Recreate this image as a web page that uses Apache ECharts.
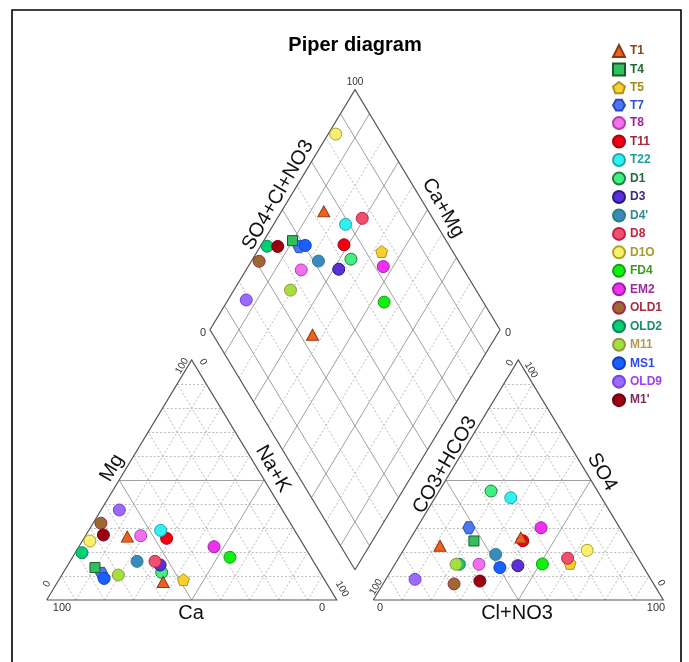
<!DOCTYPE html>
<html lang="en">
<head>
<meta charset="UTF-8">
<title>Piper diagram</title>
<script src="https://cdn.jsdelivr.net/npm/echarts@6/dist/echarts.min.js"></script>
<style>
    body { margin: 0; padding: 0; background: #fff; }
    #main { width: 689px; height: 662px; }
</style>
</head>
<body>
<div id="main"></div>
<script>
    // sample ids, T1 has two samples
    const samples = ['T1', 'T1', 'T4', 'T5', 'T7', 'T8', 'T11', 'T22', 'D1', 'D3', "D4'", 'D8', 'D1O', 'FD4', 'EM2', 'OLD1', 'OLD2', 'M11', 'MS1', 'OLD9', "M1'"];

    // cations (% meq/l)
    const ca  = [59.0, 56.1, 76.6, 48.6, 75.5, 54.2, 45.8, 46.2, 54.6, 53.6, 60.8, 54.6, 72.8, 27.9, 31.2, 65.3, 78.0, 70.1, 75.7, 56.2, 66.9];
    const mg  = [26.4,  7.5, 13.5,  8.5, 11.1, 26.8, 25.7, 29.0, 11.5, 14.6, 16.1, 16.1, 24.6, 17.8, 22.2, 32.0, 19.7, 10.4,  9.0, 37.5, 27.1];
    const naK = [14.6, 36.4,  9.9, 42.9, 13.4, 19.0, 28.5, 24.8, 33.9, 31.8, 23.1, 29.3,  2.6, 54.3, 46.6,  2.7,  2.3, 19.5, 15.3,  6.3,  6.0];

    // anions (% meq/l)
    const hco3 = [36.1, 65.7, 53.0, 24.5, 52.0, 56.1, 36.1, 31.3, 36.7, 43.0, 48.3, 24.3, 15.9, 34.2, 27.1, 68.8, 62.9, 64.0, 49.6, 81.3, 59.3];
    const so4  = [26.0, 22.6, 24.6, 15.3, 30.1, 14.9, 24.7, 42.6, 45.4, 14.3, 19.0, 17.4, 20.7, 15.0, 30.1,  6.7, 14.9, 14.9, 13.5,  8.6,  7.9];
    const cl   = [37.9, 11.7, 22.4, 60.2, 17.9, 29.0, 39.2, 26.1, 17.9, 42.7, 32.7, 58.3, 63.4, 50.8, 42.8, 24.5, 22.2, 21.1, 36.9, 10.1, 32.8];

    const legendNames = ['T1', 'T4', 'T5', 'T7', 'T8', 'T11', 'T22', 'D1', 'D3', "D4'", 'D8', 'D1O', 'FD4', 'EM2', 'OLD1', 'OLD2', 'M11', 'MS1', 'OLD9', "M1'"];
    const gridTicks = [10, 20, 30, 40, 50, 60, 70, 80, 90];

    // marker styles
    const PENT = 'path://M5,0 L10,3.8 L8.1,9.5 L1.9,9.5 L0,3.8 Z';
    const HEX = 'path://M0,5 L2.6,0.5 L7.4,0.5 L10,5 L7.4,9.5 L2.6,9.5 Z';
    const icons = ['triangle', 'rect', PENT, HEX, 'circle', 'circle', 'circle', 'circle', 'circle', 'circle', 'circle', 'circle', 'circle', 'circle', 'circle', 'circle', 'circle', 'circle', 'circle', 'circle'];
    const sizes = [[12, 11], 10, 12, 12, 12, 12, 12, 12, 12, 12, 12, 12, 12, 12, 12, 12, 12, 12, 12, 12];
    const fills = ['#F06020', '#30C060', '#F8D030', '#4A78F0', '#F070F0', '#F00010', '#30F0F0', '#40F080', '#5A30D8', '#3A8AC0',
        '#F05070', '#F8F070', '#10F010', '#F030F0', '#9A6A30', '#00D070', '#A0E040', '#1A60FF', '#9A6AFF', '#9A0010'];
    const borders = ['#8B3A10', '#1A5A2A', '#B09020', '#2A48C0', '#B040B0', '#B00010', '#20A8B0', '#208040', '#2A1880', '#2A8080',
        '#C02040', '#B0A020', '#10A010', '#A020A0', '#A02848', '#108060', '#A09040', '#1040C0', '#7A40E0', '#700018'];
    const textColors = ['#8B4513', '#1E6B2E', '#A08A1E', '#2F4FD8', '#A020A0', '#A0283C', '#1E9E9E', '#1E6E3A', '#2E2E80', '#2A8C8C',
        '#C8203C', '#A89A2A', '#3C9C1E', '#9A2A9A', '#A03040', '#1A8C6E', '#B09A5A', '#2A4AF0', '#A040F0', '#7A2A5A'];

    // geometry: triangle side = 100 units
    const H = Math.sqrt(3) / 2 * 100;
    const GAP = 12.62;
    const AX = 100 + GAP;                       // anion triangle x offset
    const B = [100 + GAP / 2, GAP / 2 * Math.sqrt(3)]; // diamond bottom vertex

    function catXY(i) { return [naK[i] + mg[i] / 2, mg[i] * H / 100]; }
    function anXY(i) { return [AX + cl[i] + so4[i] / 2, so4[i] * H / 100]; }
    function diaXY(i) {
        const u = (100 - naK[i]) / 100;   // Ca+Mg
        const v = (100 - hco3[i]) / 100;  // SO4+Cl+NO3
        return [B[0] - 50 * u + 50 * v, B[1] + H * u + H * v];
    }

    // grid lines
    const solidSegs = [];
    const dashSegs = [];
    [0, AX].forEach(ox => {
        gridTicks.forEach(p => {
            const t = p / 100;
            const segs = [
                [[ox + 50 * t, H * t], [ox + 100 - 50 * t, H * t]],
                [[ox + 100 * t, 0], [ox + 100 * t + 50 * (1 - t), H * (1 - t)]],
                [[ox + 100 * (1 - t), 0], [ox + 50 * (1 - t), H * (1 - t)]]
            ];
            segs.forEach(s => (p === 50 ? solidSegs : dashSegs).push({ coords: s }));
        });
    });
    gridTicks.forEach(p => {
        const t = p / 100;
        const a0 = [B[0] - 50 * t, B[1] + H * t];
        const b0 = [B[0] + 50 * t, B[1] + H * t];
        const segs = [
            [a0, [a0[0] + 50, a0[1] + H]],
            [b0, [b0[0] - 50, b0[1] + H]]
        ];
        segs.forEach(s => ((p / 10) % 2 === 1 ? solidSegs : dashSegs).push({ coords: s }));
    });

    const edges = [
        [[0, 0], [100, 0], [50, H], [0, 0]],
        [[AX, 0], [AX + 100, 0], [AX + 50, H], [AX, 0]],
        [B, [B[0] + 50, B[1] + H], [B[0], B[1] + 2 * H], [B[0] - 50, B[1] + H], B]
    ];

    const series = [
        {
            type: 'lines', coordinateSystem: 'cartesian2d', silent: true, z: 1,
            lineStyle: { color: '#bbbbbb', width: 1, type: [2, 2], opacity: 1 },
            data: dashSegs
        },
        {
            type: 'lines', coordinateSystem: 'cartesian2d', silent: true, z: 1,
            lineStyle: { color: '#a0a0a0', width: 1, opacity: 1 },
            data: solidSegs
        },
        {
            type: 'lines', coordinateSystem: 'cartesian2d', silent: true, z: 1, polyline: true,
            lineStyle: { color: '#555555', width: 1.2, opacity: 1 },
            data: edges.map(e => ({ coords: e }))
        }
    ];

    legendNames.forEach((name, k) => {
        const data = [];
        samples.forEach((s, i) => {
            if (s === name) data.push(catXY(i), anXY(i), diaXY(i));
        });
        series.push({
            type: 'scatter',
            name: name,
            data: data,
            symbol: icons[k],
            symbolSize: sizes[k],
            z: k < 2 ? 4 : 3,
            silent: true,
            itemStyle: { color: fills[k], borderColor: borders[k], borderWidth: 1, opacity: 1 }
        });
    });

    // text labels (pixel positions)
    const FONT = "'Liberation Sans', Arial, sans-serif";
    function txt(s, x, y, size, rot, color, weight) {
        return {
            type: 'text', x: x, y: y, rotation: (rot || 0) * Math.PI / 180, z: 10,
            style: {
                text: s, fontSize: size, fontFamily: FONT, fontWeight: weight || 'normal',
                fill: color || '#222', align: 'center', verticalAlign: 'middle'
            }
        };
    }
    const graphics = [
        { type: 'rect', shape: { x: 12, y: 10, width: 669, height: 700 }, style: { fill: 'none', stroke: '#000', lineWidth: 1.6 }, z: 0 },
        txt('Piper diagram', 355, 45, 20, 0, '#000', 'bold'),
        // cation triangle ticks
        txt('100', 182, 366, 10, 60, '#333'),
        txt('0', 203, 362, 10, -60, '#333'),
        txt('0', 47, 584, 10, 60, '#333'),
        txt('100', 62, 608, 11, 0, '#333'),
        txt('0', 322, 608, 11, 0, '#333'),
        txt('100', 342, 589, 10, -60, '#333'),
        // anion triangle ticks
        txt('0', 510, 363, 10, 60, '#333'),
        txt('100', 531, 370, 10, -60, '#333'),
        txt('100', 376, 587, 10, 60, '#333'),
        txt('0', 380, 608, 11, 0, '#333'),
        txt('100', 656, 608, 11, 0, '#333'),
        txt('0', 661, 583, 10, -60, '#333'),
        // diamond ticks
        txt('100', 355, 82, 10, 0, '#333'),
        txt('0', 203, 333, 11, 0, '#333'),
        txt('0', 508, 333, 11, 0, '#333'),
        // axis titles
        txt('Mg', 112, 468, 20, 60, '#111'),
        txt('Na+K', 273, 469, 20, -60, '#111'),
        txt('Ca', 191, 613, 20, 0, '#111'),
        txt('CO3+HCO3', 445, 465, 20, 60, '#111'),
        txt('SO4', 602, 472, 20, -60, '#111'),
        txt('Cl+NO3', 517, 613, 20, 0, '#111'),
        txt('SO4+Cl+NO3', 278, 195, 20, 60, '#111'),
        txt('Ca+Mg', 443, 208, 20, -60, '#111')
    ];

    const chart = echarts.init(document.getElementById('main'));
    chart.setOption({
        animation: false,
        backgroundColor: '#fff',
        grid: { left: 0, right: 0, top: 0, bottom: 0 },
        xAxis: { type: 'value', min: -16.103, max: 221.483, show: false },
        yAxis: { type: 'value', min: -22.372, max: 216.505, show: false },
        legend: {
            orient: 'vertical',
            left: 612,
            top: 44,
            padding: 0,
            itemWidth: 12,
            itemHeight: 12,
            itemGap: 4.47,
            selectedMode: false,
            textStyle: { fontSize: 12, fontWeight: 'bold', fontFamily: FONT },
            data: legendNames.map((n, k) => ({ name: n, icon: icons[k], textStyle: { color: textColors[k] } }))
        },
        graphic: graphics,
        series: series
    });
</script>
</body>
</html>
